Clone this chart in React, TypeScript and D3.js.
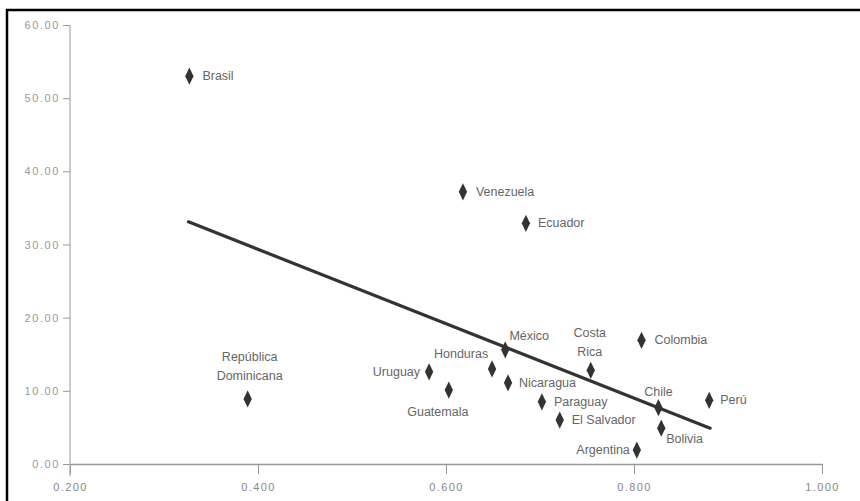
import { useEffect, useRef } from 'react';
import * as d3 from 'd3';

const countries = [
  'Brasil', 'Venezuela', 'Ecuador', 'República Dominicana', 'Uruguay', 'Guatemala',
  'Honduras', 'México', 'Nicaragua', 'Costa Rica', 'Paraguay', 'El Salvador',
  'Chile', 'Bolivia', 'Argentina', 'Perú', 'Colombia',
];
const xValues = [0.327, 0.618, 0.685, 0.389, 0.582, 0.603, 0.649, 0.663, 0.666, 0.754, 0.702, 0.721, 0.826, 0.829, 0.803, 0.88, 0.808];
const yValues = [53.0, 37.2, 32.9, 8.9, 12.6, 10.1, 13.0, 15.6, 11.1, 12.8, 8.5, 6.0, 7.7, 4.9, 1.9, 8.7, 16.9];

const trendX = [0.326, 0.881];
const trendY = [33.1, 4.9];

const xTicks = [0.2, 0.4, 0.6, 0.8, 1.0];
const yTicks = [0, 10, 20, 30, 40, 50, 60];

// label placement: dx, dy from the marker, text-anchor
const labelPlace: Record<string, [number, number, string]> = {
  'Brasil': [13, 4, 'start'],
  'Venezuela': [13, 4, 'start'],
  'Ecuador': [12, 4, 'start'],
  'República Dominicana': [2, -38, 'middle'],
  'Uruguay': [-9, 4, 'end'],
  'Guatemala': [-11, 26, 'middle'],
  'Honduras': [-31, -11, 'middle'],
  'México': [24, -10, 'middle'],
  'Nicaragua': [11, 4, 'start'],
  'Costa Rica': [-1, -33, 'middle'],
  'Paraguay': [12, 4, 'start'],
  'El Salvador': [12, 4, 'start'],
  'Chile': [0, -12, 'middle'],
  'Bolivia': [5, 15, 'start'],
  'Argentina': [-7, 4, 'end'],
  'Perú': [11, 4, 'start'],
  'Colombia': [13, 4, 'start'],
};

const App = () => {
  const ref = useRef<SVGSVGElement>(null);

  useEffect(() => {
    const width = 860;
    const height = 501;
    const svg = d3.select(ref.current);
    svg.selectAll('*').remove();
    svg.attr('width', width).attr('height', height);

    svg.append('rect').attr('width', width).attr('height', height).attr('fill', '#fff');

    // frame (cropped on the right and bottom)
    svg.append('path')
      .attr('d', `M7,${height} V10 H${width}`)
      .attr('fill', 'none')
      .attr('stroke', '#000')
      .attr('stroke-width', 2.5);

    const x = d3.scaleLinear().domain([0.2, 1.0]).range([70, 822]);
    const y = d3.scaleLinear().domain([0, 60]).range([464, 25]);

    const font = '"Liberation Sans", Arial, sans-serif';

    // y axis
    const yAxis = svg.append('g')
      .attr('transform', `translate(${x(0.2)},0)`)
      .call(d3.axisLeft(y).tickValues(yTicks).tickFormat(d3.format('.2f')).tickSize(7).tickSizeOuter(0));
    yAxis.select('.domain').attr('stroke', '#999').attr('d', `M0,${y(60)}V${y(0) + 12}`);
    yAxis.selectAll('line').attr('stroke', '#999');
    yAxis.selectAll('text')
      .attr('fill', '#999')
      .attr('font-family', font)
      .attr('font-size', 11)
      .attr('letter-spacing', 1.6)
      .attr('x', -10);

    // x axis
    const xAxis = svg.append('g')
      .attr('transform', `translate(0,${y(0)})`)
      .call(d3.axisBottom(x).tickValues(xTicks).tickFormat(d3.format('.3f')).tickSize(10).tickSizeOuter(0));
    xAxis.select('.domain').attr('stroke', '#999').attr('stroke-width', 1.5);
    xAxis.selectAll('line').attr('stroke', '#999');
    xAxis.selectAll('text')
      .attr('fill', '#888')
      .attr('font-family', font)
      .attr('font-size', 11)
      .attr('letter-spacing', 1.4)
      .attr('y', 19);

    // trend line
    svg.append('line')
      .attr('x1', x(trendX[0]))
      .attr('y1', y(trendY[0]))
      .attr('x2', x(trendX[1]))
      .attr('y2', y(trendY[1]))
      .attr('stroke', '#333')
      .attr('stroke-width', 3.2)
      .attr('stroke-linecap', 'round');

    const data = countries.map((c, i) => ({ name: c, xv: xValues[i], yv: yValues[i] }));

    const diamond = d3.symbol().type(d3.symbolDiamond).size(60);

    svg.append('g')
      .selectAll('path')
      .data(data)
      .enter()
      .append('path')
      .attr('d', diamond)
      .attr('transform', (d) => `translate(${x(d.xv)},${y(d.yv)}) scale(1,1.2)`)
      .attr('fill', '#333');

    const labels = svg.append('g')
      .attr('font-family', font)
      .attr('font-size', 12.5)
      .attr('fill', '#666');

    data.forEach((d) => {
      const [dx, dy, anchor] = labelPlace[d.name];
      const words = d.name === 'República Dominicana' || d.name === 'Costa Rica' ? d.name.split(' ') : [d.name];
      const t = labels.append('text')
        .attr('x', x(d.xv) + dx)
        .attr('y', y(d.yv) + dy)
        .attr('text-anchor', anchor);
      words.forEach((w, i) => {
        t.append('tspan')
          .attr('x', x(d.xv) + dx)
          .attr('dy', i === 0 ? 0 : 19)
          .text(w);
      });
    });
  }, []);

  return <svg ref={ref} style={{ position: 'absolute', left: 0, top: 0 }}></svg>;
};

export default App;
